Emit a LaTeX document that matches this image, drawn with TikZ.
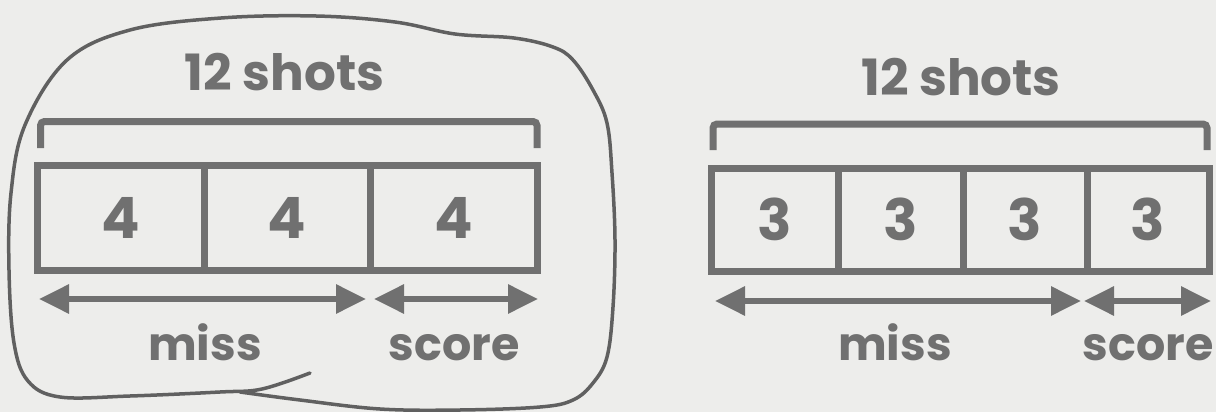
\documentclass[tikz,border=0pt]{standalone}
\usepackage{fontspec}
\setmainfont{Poppins}
\usetikzlibrary{arrows.meta}
\definecolor{ink}{HTML}{707070}
\definecolor{paper}{HTML}{EDEDEB}
\definecolor{pencil}{HTML}{606060}
\tikzset{
  cell/.style={draw=ink, line width=7pt, inner sep=0pt, text=ink,
    font=\fontsize{57}{62}\selectfont\bfseries},
  label/.style={text=ink, inner sep=0pt, font=\fontsize{50}{56}\selectfont\bfseries},
  sublabel/.style={label, font=\fontsize{46}{52}\selectfont\bfseries},
  bracket/.style={draw=ink, line width=7pt, rounded corners=4pt},
  span/.style={draw=ink, line width=6pt, {Triangle[length=30pt,width=28pt]}-{Triangle[length=30pt,width=28pt]}}
}
\begin{document}
\begin{tikzpicture}[x=1pt, y=-1pt, line cap=butt, line join=miter]
  \useasboundingbox[fill=paper] (0,0) rectangle (1216,412);
  % left: three parts
  \node[label] (totalL) at (284.5,72.5) {12 shots};
  \draw[bracket] (40.5,148) |- (537,121.5) -- (537,148);
  \node[cell, minimum width=166.5, minimum height=105] (a1) at (120.75,217.5) {4};
  \node[cell, minimum width=166, minimum height=105] (a2) at (287,217.5) {4};
  \node[cell, minimum width=167, minimum height=105] (a3) at (453.5,217.5) {4};
  \coordinate (ma) at (39,299);
  \coordinate (mb) at (366,299);
  \coordinate (sa) at (374,299);
  \coordinate (sb) at (538,299);
  \draw[span] (ma) -- (mb);
  \draw[span] (sa) -- (sb);
  \node[sublabel, anchor=base] (missL) at (205,360) {miss};
  \node[sublabel, anchor=base] (scoreL) at (454,360) {score};
  % loop drawn round it by hand
  \draw[pencil, line width=3.5pt, line cap=round] plot[smooth, tension=0.6] coordinates {
    (310,373) (262,389) (220,392) (130,396) (60,397) (28,381) (14,343) (9,270)
    (11,193) (25,125) (67,60) (130,30) (221,18) (316,16) (395,22) (455,34)
    (514,38) (553,47) (573,60) (593,90) (607,123) (612,173) (615,240) (613,307)
    (607,357) (593,383) (573,400) (540,407) (460,410) (380,409) (300,400) (240,392)};
  % right: four parts
  \node[label] (totalR) at (961,77) {12 shots};
  \draw[bracket] (713,150) |- (1207,124) -- (1207,150);
  \node[cell, minimum width=127, minimum height=103.5] (b1) at (774.5,219.75) {3};
  \node[cell, minimum width=125, minimum height=103.5] (b2) at (900.5,219.75) {3};
  \node[cell, minimum width=124, minimum height=103.5] (b3) at (1025,219.75) {3};
  \node[cell, minimum width=122, minimum height=103.5] (b4) at (1148,219.75) {3};
  \coordinate (mc) at (715,301);
  \coordinate (md) at (1081,301);
  \coordinate (sc) at (1084,301);
  \coordinate (sd) at (1211,301);
  \draw[span] (mc) -- (md);
  \draw[span] (sc) -- (sd);
  \node[sublabel, anchor=base] (missR) at (895,360) {miss};
  \node[sublabel, anchor=base] (scoreR) at (1148,360) {score};
\end{tikzpicture}
\end{document}
